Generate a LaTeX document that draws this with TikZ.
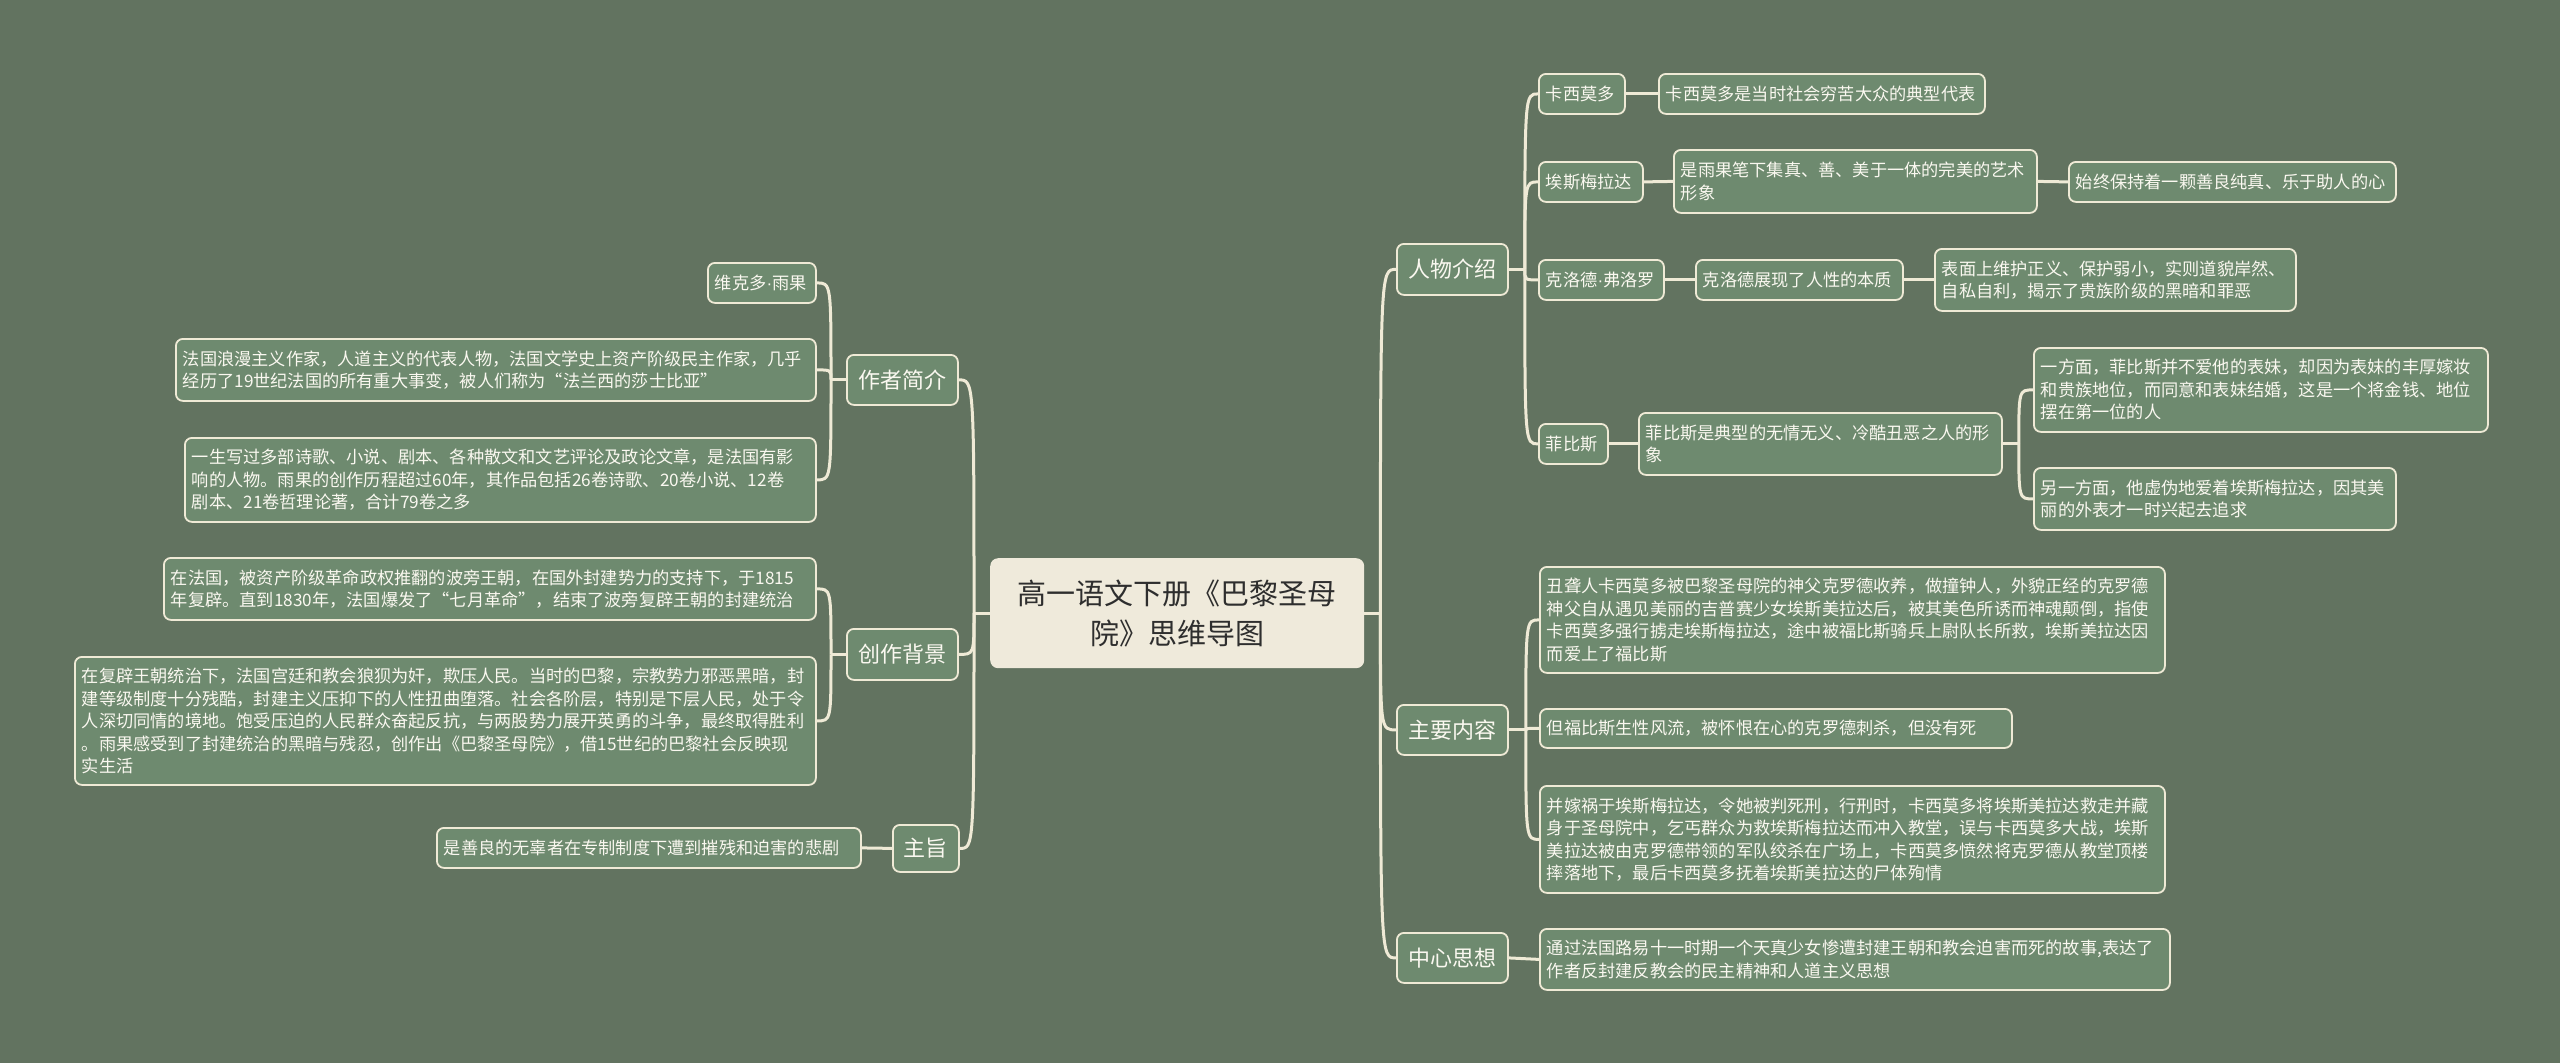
\documentclass[tikz,border=0pt]{standalone}
\usepackage{fontspec}
\newfontfamily\cjk{Noto Sans CJK SC}
\newfontfamily\latinf{Liberation Sans}
\newcommand\mdot{{\latinf ·}}
\definecolor{bg}{HTML}{627360}
\definecolor{nodefill}{HTML}{6E8A6F}
\definecolor{cream}{HTML}{EFEAD6}
\definecolor{centerfill}{HTML}{EFEADB}
\definecolor{centertext}{HTML}{2E2E2E}
\definecolor{txt}{HTML}{FAF8F0}
\tikzset{
 base/.style={draw=cream, line width=1.8pt, rounded corners=7pt, fill=nodefill, text=txt, inner xsep=7pt, inner ysep=3pt},
 leaf/.style={base, align=left, font=\cjk\fontsize{17.2}{22.5}\selectfont},
 topic/.style={base, align=center, font=\cjk\fontsize{22}{26}\selectfont},
 root/.style={fill=centerfill, draw=none, rounded corners=8pt, text=centertext, align=center, inner xsep=7pt, inner ysep=3pt, font=\cjk\fontsize{29}{40}\selectfont},
 conn/.style={draw=cream, line width=3pt},
}
\newcommand\mynode[7]{%
 \pgfmathsetmacro\mw{#5-#3}\pgfmathsetmacro\mh{#6-#4}\pgfmathsetmacro\tw{#5-#3-14}%
 \node[#1, minimum width=\mw pt, minimum height=\mh pt, text width=\tw pt, anchor=north west] (#2) at (#3,#4) {#7};}
\newcommand\brl[2]{\draw[conn] (#1) .. controls (#1 |- #2) and (#1 |- #2) .. (#2);}
\begin{document}
\begin{tikzpicture}[x=1pt,y=-1pt]
\fill[bg] (0,0) rectangle (2560,1063);
\useasboundingbox (0,0) rectangle (2560,1063);
% center
\mynode{root}{c}{990}{558}{1364}{668}{高一语文下册《巴黎圣母\\院》思维导图}
% level 1
\mynode{topic}{zz}{846}{354}{957}{404}{作者简介}
\mynode{topic}{bj}{846}{628}{957}{679}{创作背景}
\mynode{topic}{zd}{892}{824}{958}{871}{主旨}
\mynode{topic}{rw}{1396}{243}{1507}{294}{人物介绍}
\mynode{topic}{nr}{1396}{704}{1507}{754}{主要内容}
\mynode{topic}{sx}{1396}{932}{1507}{982}{中心思想}
% left leaves
\mynode{leaf}{z1}{707}{262}{815}{302}{维克多\mdot 雨果}
\mynode{leaf}{z2}{175}{338}{815}{400}{法国浪漫主义作家，人道主义的代表人物，法国文学史上资产阶级民主作家，几乎\\经历了19世纪法国的所有重大事变，被人们称为“法兰西的莎士比亚”}
\mynode{leaf}{z3}{184}{437}{815}{521}{一生写过多部诗歌、小说、剧本、各种散文和文艺评论及政论文章，是法国有影\\响的人物。雨果的创作历程超过60年，其作品包括26卷诗歌、20卷小说、12卷\\剧本、21卷哲理论著，合计79卷之多}
\mynode{leaf}{b1}{163}{557}{815}{619}{在法国，被资产阶级革命政权推翻的波旁王朝，在国外封建势力的支持下，于1815\\年复辟。直到1830年，法国爆发了“七月革命”，结束了波旁复辟王朝的封建统治}
\mynode{leaf}{b2}{74}{656}{815}{784}{在复辟王朝统治下，法国宫廷和教会狼狈为奸，欺压人民。当时的巴黎，宗教势力邪恶黑暗，封\\建等级制度十分残酷，封建主义压抑下的人性扭曲堕落。社会各阶层，特别是下层人民，处于令\\人深切同情的境地。饱受压迫的人民群众奋起反抗，与两股势力展开英勇的斗争，最终取得胜利\\。雨果感受到了封建统治的黑暗与残忍，创作出《巴黎圣母院》，借15世纪的巴黎社会反映现\\实生活}
\mynode{leaf}{d1}{436}{827}{860}{867}{是善良的无辜者在专制制度下遭到摧残和迫害的悲剧}
% right leaves
\mynode{leaf}{r1}{1538}{73}{1624}{113}{卡西莫多}
\mynode{leaf}{r1a}{1658}{73}{1984}{113}{卡西莫多是当时社会穷苦大众的典型代表}
\mynode{leaf}{r2}{1538}{161}{1642}{201}{埃斯梅拉达}
\mynode{leaf}{r2a}{1673}{149}{2036}{212}{是雨果笔下集真、善、美于一体的完美的艺术\\形象}
\mynode{leaf}{r2b}{2068}{161}{2395}{201}{始终保持着一颗善良纯真、乐于助人的心}
\mynode{leaf}{r3}{1538}{259}{1663}{299}{克洛德\mdot 弗洛罗}
\mynode{leaf}{r3a}{1695}{259}{1902}{299}{克洛德展现了人性的本质}
\mynode{leaf}{r3b}{1934}{248}{2295}{310}{表面上维护正义、保护弱小，实则道貌岸然、\\自私自利，揭示了贵族阶级的黑暗和罪恶}
\mynode{leaf}{r4}{1538}{423}{1607}{463}{菲比斯}
\mynode{leaf}{r4a}{1638}{412}{2001}{474}{菲比斯是典型的无情无义、冷酷丑恶之人的形\\象}
\mynode{leaf}{r4b}{2033}{347}{2487}{431}{一方面，菲比斯并不爱他的表妹，却因为表妹的丰厚嫁妆\\和贵族地位，而同意和表妹结婚，这是一个将金钱、地位\\摆在第一位的人}
\mynode{leaf}{r4c}{2033}{467}{2395}{529}{另一方面，他虚伪地爱着埃斯梅拉达，因其美\\丽的外表才一时兴起去追求}
\mynode{leaf}{m1}{1539}{566}{2164}{672}{丑聋人卡西莫多被巴黎圣母院的神父克罗德收养，做撞钟人，外貌正经的克罗德\\神父自从遇见美丽的吉普赛少女埃斯美拉达后，被其美色所诱而神魂颠倒，指使\\卡西莫多强行掳走埃斯梅拉达，途中被福比斯骑兵上尉队长所救，埃斯美拉达因\\而爱上了福比斯}
\mynode{leaf}{m2}{1539}{708}{2011}{747}{但福比斯生性风流，被怀恨在心的克罗德刺杀，但没有死}
\mynode{leaf}{m3}{1539}{785}{2164}{892}{并嫁祸于埃斯梅拉达，令她被判死刑，行刑时，卡西莫多将埃斯美拉达救走并藏\\身于圣母院中，乞丐群众为救埃斯梅拉达而冲入教堂，误与卡西莫多大战，埃斯\\美拉达被由克罗德带领的军队绞杀在广场上，卡西莫多愤然将克罗德从教堂顶楼\\摔落地下，最后卡西莫多抚着埃斯美拉达的尸体殉情}
\mynode{leaf}{s1}{1539}{928}{2169}{989}{通过法国路易十一时期一个天真少女惨遭封建王朝和教会迫害而死的故事,表达了\\作者反封建反教会的民主精神和人道主义思想}
% junctions
\coordinate (JL) at ([xshift=-16pt]c.west);
\coordinate (JR) at ([xshift=16pt]c.east);
\coordinate (Jzz) at ([xshift=-15pt]zz.west);
\coordinate (Jbj) at ([xshift=-15pt]bj.west);
\coordinate (Jrw) at ([xshift=16pt]rw.east);
\coordinate (Jnr) at ([xshift=17pt]nr.east);
\coordinate (Jr4) at ([xshift=16pt]r4a.east);
% connectors
\draw[conn] (c.west) -- (JL);
\draw[conn] (c.east) -- (JR);
\brl{JL}{zz.east}\brl{JL}{bj.east}\brl{JL}{zd.east}
\brl{JR}{rw.west}\brl{JR}{nr.west}\brl{JR}{sx.west}
\draw[conn] (zz.west) -- (Jzz);
\brl{Jzz}{z1.east}\brl{Jzz}{z2.east}\brl{Jzz}{z3.east}
\draw[conn] (bj.west) -- (Jbj);
\brl{Jbj}{b1.east}\brl{Jbj}{b2.east}
\draw[conn] (zd.west) -- (d1.east);
\draw[conn] (rw.east) -- (Jrw);
\brl{Jrw}{r1.west}\brl{Jrw}{r2.west}\brl{Jrw}{r3.west}\brl{Jrw}{r4.west}
\draw[conn] (r1.east) -- (r1a.west);
\draw[conn] (r2.east) -- (r2a.west);
\draw[conn] (r2a.east) -- (r2b.west);
\draw[conn] (r3.east) -- (r3a.west);
\draw[conn] (r3a.east) -- (r3b.west);
\draw[conn] (r4.east) -- (r4a.west);
\draw[conn] (r4a.east) -- (Jr4);
\brl{Jr4}{r4b.west}\brl{Jr4}{r4c.west}
\draw[conn] (nr.east) -- (Jnr);
\brl{Jnr}{m1.west}\brl{Jnr}{m2.west}\brl{Jnr}{m3.west}
\draw[conn] (sx.east) -- (s1.west);
\end{tikzpicture}
\end{document}
